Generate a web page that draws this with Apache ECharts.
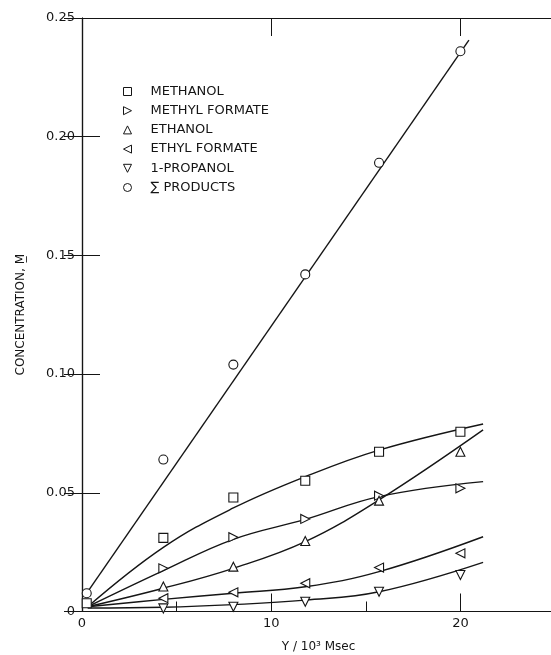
<!DOCTYPE html>
<html>
<head>
<meta charset="utf-8">
<script src="https://cdn.jsdelivr.net/npm/echarts@6/dist/echarts.min.js"></script>
<style>
  html, body { margin: 0; background: #fff; }
  #chart { width: 551px; height: 655px; }
</style>
</head>
<body>
<div id="chart"></div>
<script>
  // measured points (time in 10^3 msec, concentration M)
  var times = [0.25, 4.3, 8.0, 11.8, 15.7, 20.0];
  var methanol = [0.0035, 0.031, 0.048, 0.0551, 0.0673, 0.0757];
  var methylFormate = [null, 0.0182, 0.0313, 0.039, 0.0488, 0.0519];
  var ethanol = [null, 0.0105, 0.0189, 0.0297, 0.0467, 0.0673];
  var ethylFormate = [null, 0.0056, 0.0081, 0.0119, 0.0185, 0.0245];
  var propanol = [null, 0.0013, 0.002, 0.0041, 0.0083, 0.0154];
  var products = [0.0077, 0.064, 0.104, 0.142, 0.189, 0.236];

  // hand drawn fit curves
  var fitTimes = [0.3, 4.3, 8.0, 11.8, 15.7, 21.2];
  var methanolFit = [0.002, 0.027, 0.0436, 0.0568, 0.068, 0.079];
  var methylFormateFit = [0.002, 0.0172, 0.0304, 0.0388, 0.0484, 0.0547];
  var ethanolFit = [0.002, 0.0098, 0.0182, 0.0294, 0.047, 0.0765];
  var ethylFormateFit = [0.002, 0.0051, 0.0077, 0.0104, 0.0168, 0.0315];
  var propanolFit = [0.0015, 0.0018, 0.0029, 0.0048, 0.0083, 0.0207];
  var productsFitTimes = [0.25, 20.45];
  var productsFit = [0.0077, 0.2407];

  var names = ["METHANOL", "METHYL FORMATE", "ETHANOL", "ETHYL FORMATE", "1-PROPANOL", "\u2211 PRODUCTS"];
  var xTicks = [0, 10, 20];

  var ink = "#151515";
  var icons = {
    square: "path://M0,0L10,0L10,10L0,10Z",
    right: "path://M0,0L10,5L0,10Z",
    up: "path://M5,0L10,10L0,10Z",
    left: "path://M10,0L0,5L10,10Z",
    down: "path://M0,0L10,0L5,10Z",
    circle: "circle",
  };

  function pairs(xs, ys) {
    var out = [];
    xs.forEach(function (x, i) {
      if (ys[i] !== null) out.push([x, ys[i]]);
    });
    return out;
  }

  function marks(name, ys, symbol, rotate) {
    return {
      name: name,
      type: "scatter",
      data: pairs(times, ys),
      symbol: symbol,
      symbolRotate: rotate,
      symbolSize: 9,
      itemStyle: { color: "#fff", borderColor: ink, borderWidth: 1.1, opacity: 1 },
      z: 5,
    };
  }

  function curve(xs, ys, smooth) {
    return {
      name: "fit",
      type: "line",
      data: pairs(xs, ys),
      smooth: smooth,
      showSymbol: false,
      symbol: "none",
      lineStyle: { color: ink, width: 1.4 },
      silent: true,
      z: 3,
    };
  }

  var legendIcons = [icons.square, icons.right, icons.up, icons.left, icons.down, icons.circle];

  var chart = echarts.init(document.getElementById("chart"));
  var tickStyle = { color: ink, width: 1 };
  var option = {
    animation: false,
    backgroundColor: "#fff",
    textStyle: { fontFamily: "DejaVu Sans", color: ink },
    grid: { left: 82, right: -4, top: 18, bottom: 43.5, outerBoundsMode: "none", containLabel: false },
    legend: {
      data: names.map(function (n, i) {
        return { name: n, icon: legendIcons[i] };
      }),
      orient: "vertical",
      left: 123,
      top: 85,
      padding: 0,
      itemWidth: 8,
      itemHeight: 8,
      itemGap: 6.2,
      itemStyle: { color: "#fff", borderColor: ink, borderWidth: 1 },
      textStyle: { fontFamily: "DejaVu Sans", fontSize: 13, color: ink, lineHeight: 11, padding: [0, 0, 0, 14] },
    },
    xAxis: [
      {
        type: "value",
        min: 0,
        max: 25,
        interval: 10,
        position: "bottom",
        name: "Y / 10\u00b3 Msec",
        nameLocation: "middle",
        nameGap: 29,
        nameTextStyle: { fontSize: 12, color: ink },
        axisLine: { show: true, lineStyle: { color: ink, width: 1.2 } },
        axisTick: { inside: true, length: 18, lineStyle: tickStyle },
        splitLine: { show: false },
        axisLabel: {
          fontSize: 13,
          color: ink,
          margin: 6,
          formatter: function (v) { return xTicks.indexOf(v) >= 0 ? String(v) : ""; },
        },
      },
      {
        type: "value",
        min: 0,
        max: 25,
        interval: 5,
        position: "bottom",
        axisLine: { show: false },
        axisTick: { inside: true, length: 10, lineStyle: tickStyle },
        splitLine: { show: false },
        axisLabel: { show: false },
      },
      {
        type: "value",
        min: 0,
        max: 25,
        interval: 10,
        position: "top",
        axisLine: { show: true, lineStyle: { color: ink, width: 1.2 } },
        axisTick: { inside: true, length: 18, lineStyle: tickStyle },
        splitLine: { show: false },
        axisLabel: { show: false },
      },
    ],
    yAxis: [
      {
        type: "value",
        min: 0,
        max: 0.25,
        interval: 0.05,
        position: "left",
        name: "CONCENTRATION, M\u0332",
        nameLocation: "middle",
        nameGap: 55,
        nameTextStyle: { fontSize: 12, color: ink },
        axisLine: { show: true, lineStyle: { color: ink, width: 1.2 } },
        axisTick: { inside: true, length: 18, lineStyle: tickStyle },
        splitLine: { show: false },
        axisLabel: {
          fontSize: 13,
          color: ink,
          margin: 7,
          formatter: function (v) { return v === 0 ? "0" : v.toFixed(2); },
        },
      },
      {
        type: "value",
        min: 0,
        max: 0.25,
        interval: 0.05,
        position: "right",
        axisLine: { show: true, lineStyle: { color: ink, width: 1.2 } },
        axisTick: { inside: true, length: 18, lineStyle: tickStyle },
        splitLine: { show: false },
        axisLabel: { show: false },
      },
    ],
    series: [
      curve(fitTimes, methanolFit, 0.4),
      curve(fitTimes, methylFormateFit, 0.4),
      curve(fitTimes, ethanolFit, 0.4),
      curve(fitTimes, ethylFormateFit, 0.4),
      curve(fitTimes, propanolFit, 0.4),
      curve(productsFitTimes, productsFit, false),
      marks(names[0], methanol, "rect", 0),
      marks(names[1], methylFormate, "triangle", -90),
      marks(names[2], ethanol, "triangle", 0),
      marks(names[3], ethylFormate, "triangle", 90),
      marks(names[4], propanol, "triangle", 180),
      marks(names[5], products, "circle", 0),
    ],
  };
  chart.setOption(option);
</script>
</body>
</html>
